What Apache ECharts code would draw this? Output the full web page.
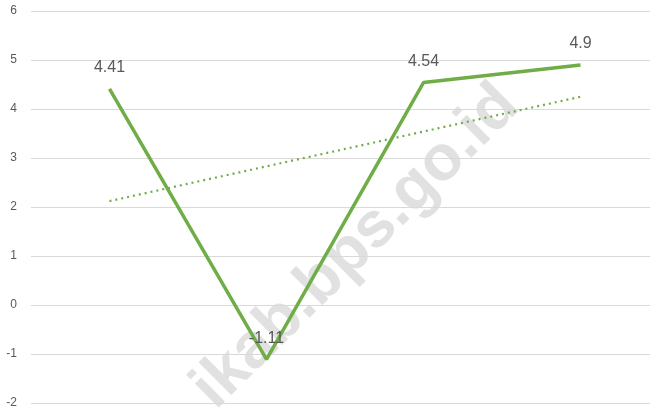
<!DOCTYPE html>
<html>
<head>
<meta charset="utf-8">
<script src="https://cdn.jsdelivr.net/npm/echarts@6/dist/echarts.min.js"></script>
<style>html,body{margin:0;padding:0;background:#fff}#c{width:650px;height:411px}</style>
</head>
<body>
<div id="c"></div>
<script>
var categories = ['1', '2', '3', '4'];
var values = [4.41, -1.11, 4.54, 4.9];
var trendValues = [2.12, 2.83, 3.54, 4.25];
var yTicks = { min: -2, max: 6, interval: 1 };
var watermark = 'ikab.bps.go.id';

var chart = echarts.init(document.getElementById('c'));
chart.setOption({
  animation: false,
  backgroundColor: '#ffffff',
  grid: { left: 31, top: 11, bottom: 8, right: -9, containLabel: false, outerBoundsMode: 'none' },
  xAxis: {
    type: 'category',
    data: categories,
    boundaryGap: true,
    axisLine: { show: false },
    axisTick: { show: false },
    axisLabel: { show: false },
    splitLine: { show: false }
  },
  yAxis: {
    type: 'value',
    min: yTicks.min, max: yTicks.max, interval: yTicks.interval,
    axisLine: { show: false },
    axisTick: { show: false },
    axisLabel: { color: '#595959', fontSize: 12, fontFamily: 'Liberation Sans', margin: 14 },
    splitLine: { lineStyle: { color: '#d9d9d9', width: 1 } }
  },
  graphic: [{
    type: 'text',
    x: 356, y: 247,
    rotation: 0.78,
    z: 0,
    silent: true,
    style: {
      text: watermark,
      fill: 'rgba(200,200,200,0.55)',
      font: 'bold 64px "Liberation Sans"',
      textAlign: 'center',
      textVerticalAlign: 'middle'
    }
  }],
  series: [{
    type: 'line',
    data: trendValues,
    symbol: 'none',
    z: 3,
    lineStyle: { color: '#70AD47', width: 2.2, type: [2, 4] }
  }, {
    type: 'line',
    data: values,
    symbol: 'circle',
    symbolSize: 0.1,
    showSymbol: true,
    z: 4,
    itemStyle: { color: '#70AD47' },
    lineStyle: { color: '#70AD47', width: 3.5 },
    label: {
      show: true,
      position: 'top',
      distance: 13,
      color: '#595959',
      fontSize: 16,
      fontFamily: 'Liberation Sans'
    },
    labelLayout: { hideOverlap: false }
  }]
});
</script>
</body>
</html>
